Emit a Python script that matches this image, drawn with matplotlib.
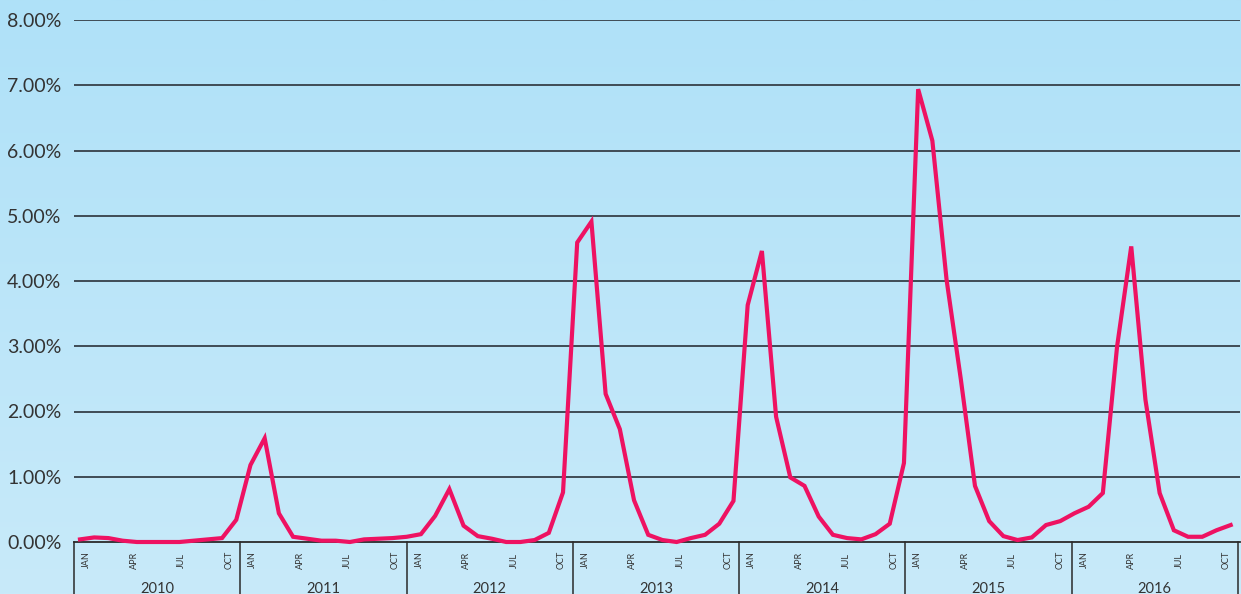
import matplotlib
matplotlib.use("Agg")
import matplotlib.pyplot as plt
import numpy as np
from matplotlib.colors import LinearSegmentedColormap

# ---- data (monthly, Jan 2010 .. Oct 2016), percent ----
years = ["2010", "2011", "2012", "2013", "2014", "2015", "2016"]
month_labels = ["JAN", "APR", "JUL", "OCT"]
values = [
    0.04, 0.07, 0.06, 0.02, 0.00, 0.00, 0.00, 0.00, 0.02, 0.04, 0.06, 0.34,   # 2010
    1.18, 1.59, 0.44, 0.08, 0.05, 0.02, 0.02, 0.00, 0.04, 0.05, 0.06, 0.08,   # 2011
    0.12, 0.40, 0.81, 0.25, 0.09, 0.05, 0.00, 0.00, 0.03, 0.14, 0.76, 4.59,   # 2012
    4.91, 2.27, 1.73, 0.64, 0.11, 0.03, 0.00, 0.06, 0.11, 0.28, 0.63, 3.63,   # 2013
    4.46, 1.92, 0.99, 0.86, 0.39, 0.11, 0.06, 0.04, 0.12, 0.28, 1.21, 6.94,   # 2014
    6.15, 4.02, 2.50, 0.86, 0.32, 0.09, 0.03, 0.07, 0.26, 0.32, 0.44, 0.54,   # 2015
    0.75, 2.99, 4.53, 2.18, 0.75, 0.18, 0.08, 0.08, 0.18, 0.26,               # 2016
]
y_ticks = [0, 1, 2, 3, 4, 5, 6, 7, 8]

# ---- layout helpers (pixel geometry of the reference) ----
W, H = 1241, 594
x0_px, step_px = 80.0, 14.206          # first point / point spacing
y0_px, unit_px = 542.0, 65.25          # 0% line / pixels per 1%
def px2x(px):
    return (px - x0_px) / step_px
def px2y(py):
    return (y0_px - py) / unit_px

fig = plt.figure(figsize=(W / 100, H / 100), dpi=100)

# gradient background
bg = fig.add_axes([0, 0, 1, 1], zorder=-10)
cmap = LinearSegmentedColormap.from_list("bg", ["#c8eafa", "#afe1f8"])
grad = np.linspace(0, 1, 256).reshape(-1, 1)
bg.imshow(grad, aspect="auto", cmap=cmap, origin="lower", extent=[0, 1, 0, 1])
bg.set_axis_off()

left_px, right_px, top_px = 74, 1240, 20
ax = fig.add_axes([left_px / W, (H - y0_px) / H,
                   (right_px - left_px) / W, (y0_px - top_px) / H])
ax.patch.set_alpha(0)
ax.set_xlim(px2x(left_px), px2x(right_px))
ax.set_ylim(0, 8)

# gridlines
for t in y_ticks[1:]:
    ax.axhline(t, color="#3f4b55", lw=1.4, zorder=1)
ax.axhline(0, color="#2a2a2a", lw=1.3, zorder=1, clip_on=False)

# line
x = np.arange(len(values))
ax.plot(x, values, color="#ee1262", lw=3.0, solid_joinstyle="miter",
        zorder=3, clip_on=False)

# y axis labels
ax.set_yticks(y_ticks)
ax.set_yticklabels([f"{t:.2f}%" for t in y_ticks], fontfamily="Lato",
                   fontsize=14, color="#333333")
ax.tick_params(axis="y", length=0, pad=9)
ax.set_xticks([])
for s in ax.spines.values():
    s.set_visible(False)

# year separators, month labels and year labels
year_w = 166.25
offsets = [12.5, 60.0, 107.5, 155.0]
for k in range(len(years) + 1):
    sx = px2x(left_px + k * year_w)
    ax.plot([sx, sx], [0, px2y(600)], color="#2a2a2a", lw=1.1,
            clip_on=False, zorder=2)
for k, yr in enumerate(years):
    start = left_px + k * year_w
    for off, m in zip(offsets, month_labels):
        ax.text(px2x(start + off), px2y(560), m, rotation=90, ha="center",
                va="center", fontsize=6.5, fontfamily="Lato", color="#333333",
                clip_on=False)
    ax.text(px2x(start + year_w / 2), px2y(593), yr, ha="center",
            va="baseline", fontsize=10.5, fontfamily="Lato", color="#333333",
            clip_on=False)

fig.savefig("out.png", dpi=100)
